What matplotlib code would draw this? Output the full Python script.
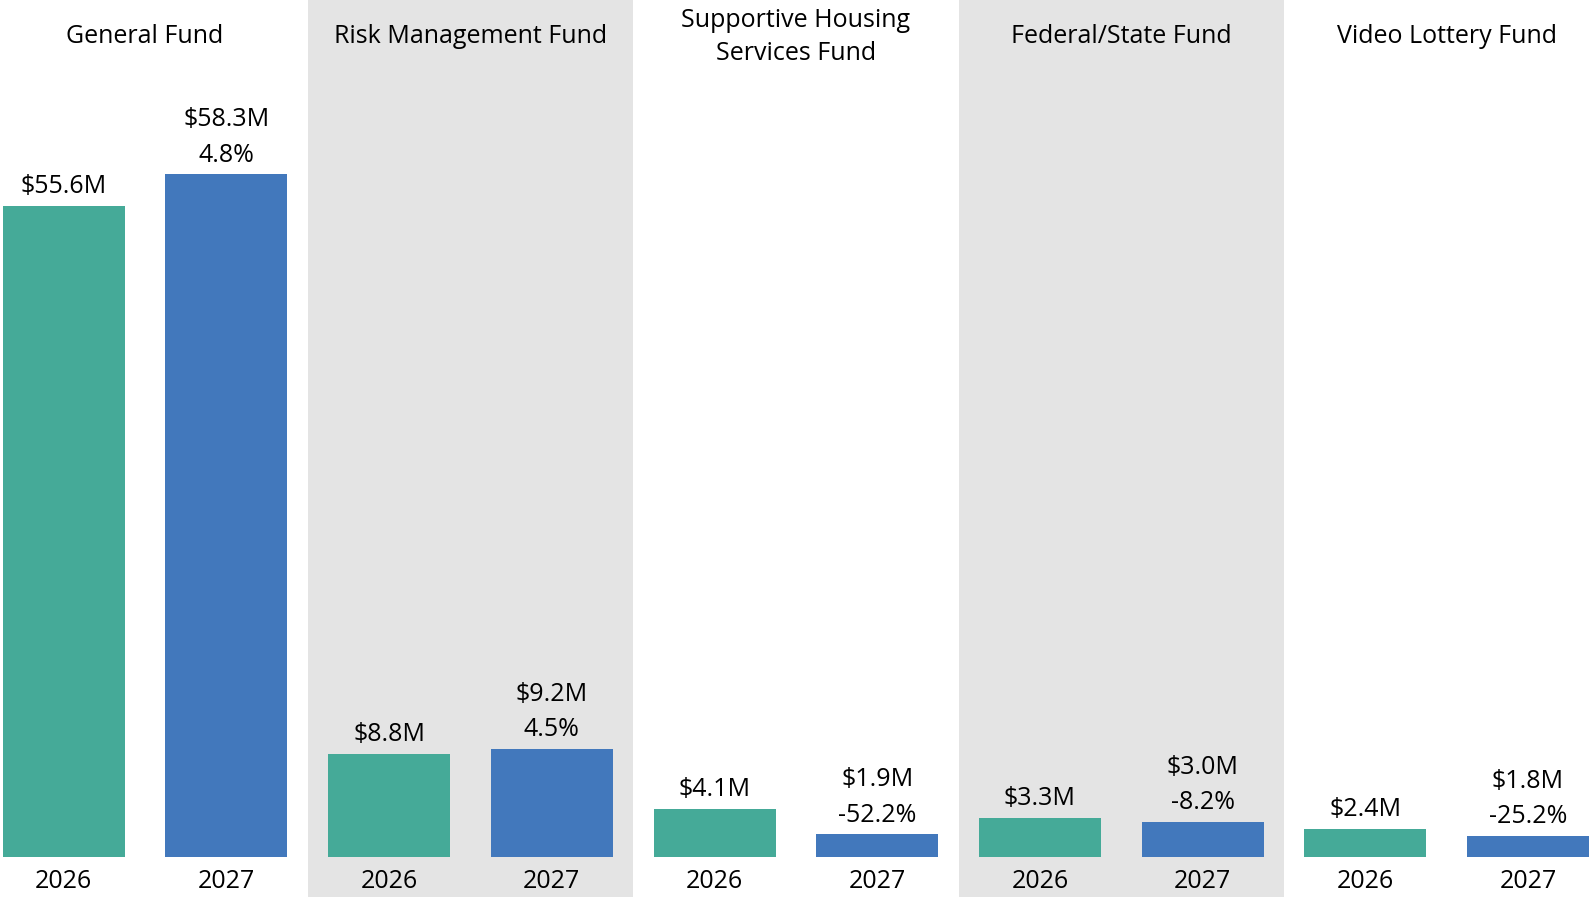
import matplotlib
matplotlib.use('Agg')
import matplotlib.pyplot as plt
import numpy as np

# Fund budgets by year ($M)
funds = ['General Fund', 'Risk Management Fund', 'Supportive Housing\nServices Fund',
         'Federal/State Fund', 'Video Lottery Fund']
years = ['2026', '2027']
vals_2026 = [55.6, 8.8, 4.1, 3.3, 2.4]
vals_2027 = [58.3, 9.2, 1.9, 3.0, 1.8]
labels_2026 = ['$55.6M', '$8.8M', '$4.1M', '$3.3M', '$2.4M']
labels_2027 = ['$58.3M', '$9.2M', '$1.9M', '$3.0M', '$1.8M']
pct_change = ['4.8%', '4.5%', '-52.2%', '-8.2%', '-25.2%']

teal = '#45AA98'
blue = '#4278BC'
grey = '#E4E4E4'

plt.rcParams['font.family'] = ['Open Sans', 'DejaVu Sans']
fs = 18

fig = plt.figure(figsize=(15.89, 8.97), dpi=100)
ax = fig.add_axes([0, 0, 1, 1])

x26 = np.arange(len(funds)) * 2
x27 = x26 + 1

# grey bands behind every other fund
for i in range(len(funds)):
    if i % 2 == 1:
        ax.axvspan(x26[i] - 0.5, x27[i] + 0.5, color=grey, zorder=0, lw=0)

ax.bar(x26, vals_2026, width=0.75, color=teal, zorder=2)
ax.bar(x27, vals_2027, width=0.75, color=blue, zorder=2)

for i in range(len(funds)):
    ax.annotate(labels_2026[i], (x26[i], vals_2026[i]), xytext=(0, 13.8),
                textcoords='offset points', ha='center', va='center', fontsize=fs)
    ax.annotate(pct_change[i], (x27[i], vals_2027[i]), xytext=(0, 13.8),
                textcoords='offset points', ha='center', va='center', fontsize=fs)
    ax.annotate(labels_2027[i], (x27[i], vals_2027[i]), xytext=(0, 39.2),
                textcoords='offset points', ha='center', va='center', fontsize=fs)
    ax.text(x26[i], -2.15, years[0], ha='center', va='center', fontsize=fs)
    ax.text(x27[i], -2.15, years[1], ha='center', va='center', fontsize=fs)
    ax.text((x26[i] + x27[i]) / 2, 70.05, funds[i], ha='center', va='center',
            fontsize=fs, linespacing=1.45)

ax.set_xlim(-0.392, 9.375)
ax.set_ylim(-3.45, 73.2)
ax.axis('off')

fig.savefig('out.png', dpi=100)
